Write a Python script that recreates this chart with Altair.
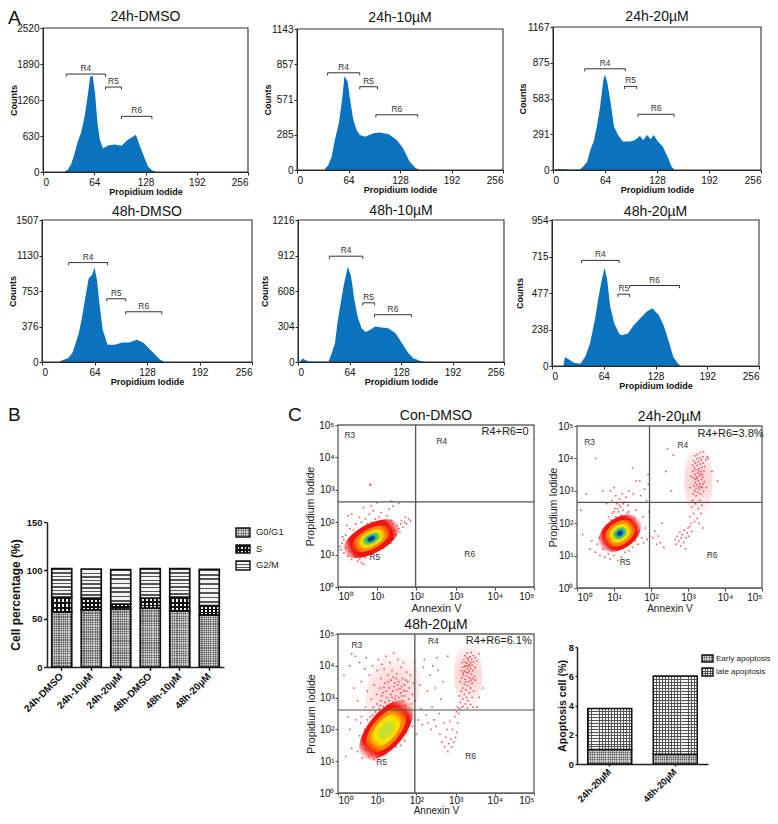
import altair as alt

FONT = "Liberation Sans"
W, H, M = 762, 808, 8

# ---------- histogram data (channel, counts) ----------
H_NAMES = ["24h-DMSO", "24h-10µM", "24h-20µM", "48h-DMSO", "48h-10µM", "48h-20µM"]
H_TOPS = [2520, 1143, 1167, 1507, 1216, 954]
H_TICKS = [[0, 630, 1260, 1890, 2520], [0, 285, 571, 857, 1143], [0, 291, 583, 875, 1167],
           [0, 376, 753, 1130, 1507], [0, 304, 608, 912, 1216], [0, 238, 477, 715, 954]]
H1_X = [27, 29, 31, 35, 39, 43, 48, 52, 56, 59, 62, 65, 68, 71, 75, 81, 90, 98, 106, 116, 120, 126, 131, 136, 141]
H1_Y = [0, 25, 40, 130, 300, 510, 710, 970, 1350, 1670, 1680, 1380, 860, 565, 410, 465, 480, 460, 565, 650, 495, 275, 100, 30, 0]
H2_X = [35, 39, 43, 47, 52, 56, 59, 63, 66, 70, 74, 78, 85, 95, 103, 114, 124, 132, 140, 147, 152]
H2_Y = [13, 40, 108, 243, 378, 567, 761, 715, 567, 405, 324, 283, 270, 297, 305, 289, 243, 175, 67, 19, 0]
H3_X = [3, 8, 15, 24, 33, 37, 42, 46, 50, 54, 58, 62, 64, 67, 71, 75, 80, 86, 95, 101, 107, 111, 116, 120, 124, 129, 135, 141, 146, 150]
H3_Y = [6, 9, 6, 3, 5, 27, 68, 164, 232, 355, 518, 736, 777, 709, 545, 355, 286, 232, 232, 245, 278, 245, 286, 251, 286, 232, 191, 109, 27, 0]
H4_X = [22, 32, 37, 41, 45, 49, 53, 57, 61, 64, 67, 70, 74, 80, 89, 98, 106, 116, 124, 132, 138, 144, 150]
H4_Y = [7, 42, 95, 201, 307, 483, 695, 889, 924, 1002, 871, 624, 342, 183, 183, 208, 208, 236, 201, 130, 78, 25, 0]
H5_X = [3, 6, 9, 14, 38, 42, 46, 49, 53, 57, 62, 66, 70, 74, 79, 84, 90, 96, 104, 112, 121, 129, 137, 143, 152, 160]
H5_Y = [11, 31, 17, 3, 3, 77, 162, 333, 504, 661, 818, 732, 533, 390, 290, 256, 276, 305, 296, 290, 248, 162, 77, 34, 9, 0]
H6_X = [14, 16, 21, 27, 35, 41, 47, 53, 58, 62, 65, 68, 72, 77, 83, 86, 94, 101, 109, 117, 124, 132, 138, 144, 150, 156, 159]
H6_Y = [0, 59, 42, 22, 15, 59, 147, 300, 464, 574, 640, 574, 388, 278, 212, 201, 212, 267, 311, 355, 377, 333, 267, 169, 59, 15, 0]
H_X = [H1_X, H2_X, H3_X, H4_X, H5_X, H6_X]
H_Y = [H1_Y, H2_Y, H3_Y, H4_Y, H5_Y, H6_Y]
# region brackets: label, start, end, height
H_GATES = [
    [("R4", 29, 78, 1714), ("R5", 78, 98, 1487), ("R6", 98, 136, 974)],
    [("R4", 38, 78, 788), ("R5", 78, 100, 675), ("R6", 98, 150, 448)],
    [("R4", 39, 89, 826), ("R5", 88, 103, 682), ("R6", 104.5, 149, 455)],
    [("R4", 32.5, 80, 1055), ("R5", 79, 102, 671), ("R6", 102, 146, 533)],
    [("R4", 39, 80.5, 906), ("R5", 80.5, 95, 507), ("R6", 95, 141, 405)],
    [("R4", 36.6, 83, 690), ("R5", 81.5, 96, 469), ("R6", 96, 157.6, 526)],
]
# page pixel boxes: left, right, bottom, top
H_BOX = [(43, 248, 172, 28), (297, 503, 170, 29), (553, 761, 170, 27),
         (42, 252, 362, 220), (298, 504, 362, 220), (552, 759, 366, 220)]
H_TITLE_DY = [-11, -11, -10, -8, -9, -8]
H_YPAD = [-2, -1, 0, -2, 2, 7]

# ---------- stacked bars ----------
B_CATS = ["24h-DMSO", "24h-10µM", "24h-20µM", "48h-DMSO", "48h-10µM", "48h-20µM"]
B_G1 = [57, 59, 60, 61, 58, 54]
B_S = [15.4, 12.4, 5, 10.4, 14.4, 9.4]
B_G2 = [29.3, 30, 35.7, 30.3, 29.3, 37.6]
D_CATS = ["24h-20µM", "48h-20µM"]
D_EARLY = [1.0, 0.66]
D_LATE = [2.8, 5.36]

# ---------- flow cytometry dots, (log10 Annexin V, log10 PI) ----------
C1_DOTS = [(1.5,1.9),(1.6,1.95),(1.65,1.85),(1.7,2.0),(1.75,1.95),(1.8,2.1),(1.85,2.05),(1.72,2.15),(1.62,2.05),(1.55,1.8),
 (1.45,1.75),(1.4,1.95),(1.35,2.05),(1.3,1.85),(1.25,2.2),(1.2,2.0),(1.1,2.3),(1.05,2.15),(0.95,2.1),(0.9,2.35),(0.85,2.0),
 (0.8,2.25),(0.75,1.95),(0.7,2.1),(0.6,2.0),(0.55,2.15),(0.45,1.95),(0.35,2.25),(0.3,1.8),(0.25,2.2),(0.4,1.75),(0.2,1.6),
 (0.15,1.45),(0.1,1.35),(0.05,1.25),(0.08,1.15),(0.15,1.05),(0.2,1.2),(0.25,0.95),(0.3,1.1),(0.35,0.85),(0.4,1.0),(0.45,0.95),
 (0.55,0.85),(0.6,0.75),(0.58,0.95),(0.7,0.9),(0.75,1.0),(0.85,1.05),(0.95,1.1),(1.05,1.15),(1.15,1.2),(1.25,1.3),(1.35,1.35),
 (1.0,2.6),(0.82,3.17),(0.83,3.14),(1.3,2.4),(1.4,2.5),(1.35,2.65),(1.55,2.58),(0.85,2.5),(0.65,2.45),(1.48,1.62),(1.58,1.7),
 (0.5,0.8),(0.65,0.7),(0.12,1.55),(0.22,1.9)]
C2_DOTS = [(0.35,1.2),(0.4,1.45),(0.5,1.1),(0.55,1.35),(0.6,1.55),(0.62,1.0),(0.7,1.2),(0.72,1.75),(0.75,0.95),(0.8,1.95),
 (0.85,1.05),(0.9,0.9),(0.92,2.1),(0.95,2.3),(1.0,1.0),(1.02,2.45),(1.05,2.2),(1.08,2.6),(1.1,0.85),(1.12,2.35),(1.15,2.75),
 (1.18,2.5),(1.2,0.95),(1.22,2.9),(1.25,2.4),(1.28,2.65),(1.3,1.1),(1.32,2.8),(1.35,2.3),(1.38,2.55),(1.4,1.15),(1.45,2.1),
 (1.5,1.25),(1.52,2.9),(1.55,1.95),(1.58,1.45),(1.6,2.4),(1.65,1.35),(1.68,1.75),(1.7,3.3),(1.72,2.85),(1.75,1.55),(1.78,2.2),
 (1.8,1.4),(1.82,3.05),(1.85,1.85),(1.88,2.7),(1.9,1.5),(1.92,3.5),(1.93,3.2),(1.95,2.35),(1.97,1.6),(0.15,1.65),(0.1,2.4),
 (0.25,2.9),(0.5,4.0),(1.0,3.1),(0.7,3.0),(0.9,3.0),(1.4,3.0),(1.5,3.7),(1.6,3.3),(0.8,2.6),(0.95,2.7),(1.05,2.85),(1.15,2.55),
 (1.25,2.6),(1.1,2.45),(1.0,2.35),(1.2,2.25),(1.3,2.15),(1.4,2.35),(0.85,2.2),(1.55,2.15),(1.6,1.85),
 (2.05,1.55),(2.1,1.75),(2.15,1.35),(2.2,1.6),(2.25,1.4),(2.3,2.0),(2.35,1.25),(2.4,3.6),(2.45,4.3),(2.55,3.0),(2.6,4.1),
 (2.65,1.5),(2.68,1.35),(2.7,1.6),(2.75,1.45),(2.78,1.72),(2.8,1.3),(2.82,1.55),(2.85,1.65),(2.88,1.4),(2.9,1.78),(2.93,1.2),
 (2.95,1.55),(2.98,1.7),(3.0,1.85),(3.02,1.6),(3.05,1.9),(3.08,2.0),(3.1,1.75),
 (3.05,2.2),(3.1,2.5),(3.12,2.7),(3.15,2.3),(3.18,2.05),(3.2,2.6),(3.22,2.85),(3.25,2.15),(3.28,2.45),(3.3,2.0),(3.32,2.7),
 (3.35,2.3),(3.38,2.55),(3.4,1.85),(3.14,2.9),(3.18,3.0),(3.22,3.08),(3.26,2.95),(3.3,3.05),(3.34,2.9),(3.38,3.1),(3.42,2.98),
 (3.16,3.15),(3.2,3.25),(3.24,3.18),(3.28,3.3),(3.32,3.22),(3.36,3.35),(3.4,3.2),(3.44,3.28),(3.15,3.4),(3.19,3.5),(3.23,3.42),
 (3.27,3.55),(3.31,3.45),(3.35,3.6),(3.39,3.5),(3.43,3.62),(3.13,3.6),(3.17,3.72),(3.21,3.65),(3.25,3.78),(3.29,3.68),
 (3.33,3.82),(3.37,3.72),(3.41,3.85),(3.45,3.75),(3.12,3.8),(3.16,3.92),(3.2,3.85),(3.24,3.98),(3.28,3.9),(3.32,4.02),
 (3.36,3.95),(3.4,4.05),(3.48,3.95),(3.52,4.05),(3.18,4.08),(3.25,4.12),(3.33,4.18),(3.42,4.2),(3.3,3.12),(3.25,3.38),
 (3.36,3.12),(3.4,3.42),(3.2,3.35),(3.28,3.62),(3.34,3.52),(3.8,3.3),(3.65,3.6),(3.55,4.0),(3.5,3.1),(3.05,3.1),(3.08,3.45)]
C3_DOTS = [(0.15,3.7),(0.2,1.15),(0.25,2.4),(0.3,4.0),(0.35,4.38),(0.4,3.3),(0.45,4.3),(0.5,2.9),(0.55,4.1),(0.58,2.2),
 (0.6,3.5),(0.65,1.55),(0.68,3.9),(0.7,2.7),(0.72,4.25),(0.75,3.2),(0.78,1.75),(0.8,3.7),(0.82,2.4),(0.85,2.95),(0.88,4.0),
 (0.9,2.7),(0.92,3.4),(0.95,2.55),(0.98,3.1),(1.0,3.85),(1.0,2.8),(1.03,4.2),(1.05,2.65),(1.07,3.3),(1.1,2.9),(1.1,3.6),
 (1.12,4.05),(1.15,2.72),(1.15,3.15),(1.18,3.9),(1.2,2.85),(1.2,3.45),(1.22,4.3),(1.25,2.75),(1.25,3.0),(1.27,3.7),(1.3,2.9),
 (1.3,3.3),(1.32,4.1),(1.35,2.7),(1.35,3.1),(1.35,3.55),(1.38,3.85),(1.4,2.85),(1.4,3.2),(1.42,4.4),(1.45,2.95),(1.45,3.45),
 (1.47,3.05),(1.5,2.8),(1.5,3.25),(1.5,3.75),(1.53,4.2),(1.55,3.0),(1.55,3.5),(1.57,2.75),(1.6,3.15),(1.6,3.95),(1.62,3.35),
 (1.65,2.9),(1.65,3.6),(1.67,4.1),(1.7,3.05),(1.7,3.4),(1.72,2.75),(1.75,3.2),(1.75,3.8),(1.78,3.5),(1.8,2.95),(1.82,3.3),
 (1.85,3.7),(1.87,2.8),(1.9,3.1),(1.92,3.45),(1.95,4.1),(1.97,2.9),(1.28,3.5),(1.33,2.8),(1.43,3.35),(1.48,3.6),(1.38,3.0),
 (1.58,3.28),(1.68,3.22),(1.12,3.05),(1.08,2.75),(1.17,3.32),(1.23,3.2),(1.41,3.65),(1.52,3.4),(1.63,3.05),(1.73,3.55),
 (0.3,2.0),(0.35,1.4),(0.45,2.3),(0.5,1.3),(0.55,1.8),(0.6,2.4),(0.62,1.1),(0.68,2.0),(0.7,1.35),(0.75,2.3),(0.78,1.15),
 (0.8,2.1),(0.85,1.2),(0.88,2.45),(0.92,1.05),(1.0,1.12),(1.08,1.2),(1.18,1.28),(1.28,1.35),(1.38,1.42),(1.48,1.45),
 (1.6,1.5),(1.7,1.65),(1.75,1.9),(1.8,2.15),(1.82,2.45),(1.9,2.1),(1.95,2.3),(2.0,1.85),
 (2.05,2.3),(2.1,3.4),(2.12,2.65),(2.15,2.15),(2.18,3.95),(2.2,4.2),(2.25,2.45),(2.28,3.2),(2.3,2.2),(2.35,3.7),(2.38,2.0),
 (2.4,2.7),(2.42,4.0),(2.45,2.3),(2.48,3.3),(2.5,2.1),(2.52,4.25),(2.55,3.85),(2.58,2.5),(2.6,1.85),(2.62,2.95),(2.65,1.6),
 (2.68,3.5),(2.7,2.2),(2.72,1.45),(2.75,1.75),(2.78,2.0),(2.8,4.3),(2.8,1.3),(2.82,1.55),(2.85,2.25),(2.88,1.7),(2.9,1.45),
 (2.92,2.0),(2.95,1.6),(2.98,2.4),(3.0,1.75),(3.02,2.55),(3.03,1.9),(3.05,2.2),(3.08,2.5),
 (3.05,2.7),(3.1,2.65),(3.12,2.85),(3.15,2.7),(3.18,2.95),(3.2,2.72),(3.22,3.1),(3.25,2.8),(3.28,3.0),(3.3,2.68),(3.32,2.9),
 (3.35,3.15),(3.38,2.78),(3.42,3.0),(3.45,2.7),(3.1,3.05),(3.14,3.2),(3.18,3.3),(3.22,3.42),(3.26,3.25),(3.3,3.38),(3.34,3.5),
 (3.38,3.3),(3.42,3.45),(3.46,3.2),(3.5,3.55),(3.12,3.5),(3.16,3.62),(3.2,3.72),(3.24,3.58),(3.28,3.68),(3.32,3.78),(3.36,3.62),
 (3.4,3.74),(3.44,3.85),(3.48,3.68),(3.14,3.85),(3.18,3.95),(3.22,3.84),(3.26,4.0),(3.3,3.9),(3.34,4.05),(3.38,3.92),(3.42,4.02),
 (3.46,4.12),(3.5,3.95),(3.17,4.1),(3.21,4.2),(3.25,4.12),(3.29,4.25),(3.33,4.15),(3.37,4.28),(3.41,4.2),(3.45,4.32),(3.5,4.25),
 (3.55,4.15),(3.3,4.4),(3.4,4.42),(3.6,4.38),(3.24,4.32),(3.19,3.78),(3.27,3.8),(3.31,3.98),(3.35,3.84),(3.39,4.1),(3.23,3.98),
 (3.28,4.08),(3.36,4.0),(3.32,4.22),(3.26,3.5),(3.4,3.55),(3.44,3.6),(3.6,3.0),(3.55,2.7),(3.7,3.3)]
C_DOTS = [C1_DOTS, C2_DOTS, C3_DOTS]
C_NAMES = ["Con-DMSO", "24h-20µM", "48h-20µM"]
C_BOX = [(338, 534, 587, 425), (577, 762, 588, 426), (338, 534, 793, 634)]
C_QUAD = [(1.98, 2.63), (1.96, 2.64), (1.96, 2.61)]
C_YPAD = [3, -1, 2]
C_XPAD = [1, 1, 0]
C_TICK = [3, 3, 2]
C_LPAD = [1, 1, 0]
C_NOTES = [
    [("R3", .30, 4.68), ("R4", 2.65, 4.51), ("R5", .94, .92), ("R6", 3.36, 1.03)],
    [("R3", .34, 4.51), ("R4", 2.86, 4.41), ("R5", 1.3, .8), ("R6", 3.65, 1.01)],
    [("R3", .48, 4.66), ("R4", 2.43, 4.77), ("R5", 1.11, .99), ("R6", 3.38, 1.17)],
]
C_SUMS = [("R4+R6=0", 4.26, 4.79), ("R4+R6=3.8%", 4.15, 4.76), ("R4+R6=6.1%", 4.1, 4.79)]
C_TITLE_SIZE = [11, 10, 10]
# density blobs: centre, angle, aspect, major-axis lengths and colours
HEAT = [(240, 20, 20), (255, 138, 0), (255, 224, 0), (112, 204, 64), (16, 176, 176), (16, 48, 128)]
C_BLOBS = [
    dict(x=.85, y=1.49, angle=332, aspect=.47, sizes=[62, 42, 30, 21, 14, 9], colors=HEAT),
    dict(x=1.16, y=1.69, angle=325, aspect=.64, sizes=[48, 35, 25, 17, 12, 7], colors=HEAT),
    dict(x=1.23, y=1.98, angle=310, aspect=.5, sizes=[72, 54, 40, 24],
         colors=[(240, 20, 20), (255, 138, 0), (255, 224, 0), (196, 224, 48)]),
]
C_HAZE = [
    [],
    [(3.28, 3.3, 74, .38, 270)],
    [(1.4, 3.2, 84, .62, 285), (3.32, 3.7, 70, .4, 270)],
]


def px(v):
    return v - M


def stripes(n, vertical, c1, c2, duty=.5):
    stops = []
    for i in range(n):
        stops += [dict(offset=i / n, color=c1), dict(offset=(i + duty) / n, color=c1),
                  dict(offset=(i + duty) / n, color=c2), dict(offset=(i + 1) / n, color=c2)]
    return dict(gradient="linear", x1=0, y1=0, x2=1 if vertical else 0, y2=0 if vertical else 1, stops=stops)


def soft(rgb, peak=1.0, hold=.7):
    r, g, b = rgb
    return dict(gradient="radial", stops=[dict(offset=0, color=f"rgba({r},{g},{b},{peak})"),
                                          dict(offset=hold, color=f"rgba({r},{g},{b},{peak})"),
                                          dict(offset=1, color=f"rgba({r},{g},{b},0)")])


def rows(**cols):
    keys = list(cols)
    return alt.Data(values=[dict(zip(keys, v)) for v in zip(*cols.values())])


def text_layer(data, sx, sy, ax, ay, size, dy=0, weight="normal", color="#222", font=FONT):
    return alt.Chart(data).mark_text(font=font, fontSize=size, fontWeight=weight, color=color, dy=dy).encode(
        x=alt.X("x:Q", scale=sx, axis=ax), y=alt.Y("y:Q", scale=sy, axis=ay), text="t:N")


def hist_panel(i):
    l, r, b, t = H_BOX[i]
    top = H_TOPS[i]
    sx = alt.Scale(domain=[0, 256], range=[px(l), px(r)], nice=False, zero=False)
    sy = alt.Scale(domain=[0, top], range=[px(b), px(t)], nice=False)
    ax = alt.Axis(orient="bottom", offset=px(b) - H, values=[0, 64, 128, 192, 256], title="Propidium Iodide", format="d",
                  grid=False, tickSize=3, labelFont=FONT, labelFontSize=10, labelColor="#111", labelPadding=2,
                  titleFont=FONT, titleFontSize=9, titleFontWeight="bold", titleColor="#111", titlePadding=0,
                  domainColor="#222", tickColor="#222")
    ay = alt.Axis(orient="left", offset=-px(l), values=H_TICKS[i], title="Counts", format="d", grid=False, tickSize=3,
                  labelFont=FONT, labelFontSize=10, labelColor="#111", labelPadding=1, titleFont=FONT,
                  titleFontSize=9, titleFontWeight="bold", titleColor="#111", titlePadding=H_YPAD[i],
                  domainColor="#222", tickColor="#222")
    area = alt.Chart(rows(x=H_X[i], y=H_Y[i])).mark_area(color="#0b72bd", interpolate="linear").encode(
        x=alt.X("x:Q", scale=sx, axis=ax), y=alt.Y("y:Q", scale=sy, axis=ay, stack=None))
    frame = alt.Chart(rows(x=[0], x2=[256], y=[0], y2=[top])).mark_rect(fill=None, stroke="#333", strokeWidth=1.1).encode(
        x=alt.X("x:Q", scale=sx, axis=ax), x2="x2:Q", y=alt.Y("y:Q", scale=sy, axis=ay), y2="y2:Q")
    g = H_GATES[i]
    drop = top * .018
    bars = alt.Chart(rows(x=[a[1] for a in g], x2=[a[2] for a in g], y=[a[3] for a in g])).mark_rule(
        color="#333", strokeWidth=1).encode(x=alt.X("x:Q", scale=sx, axis=ax), x2="x2:Q",
                                            y=alt.Y("y:Q", scale=sy, axis=ay))
    ends_x = [a[1] for a in g] + [a[2] for a in g]
    ends_y = [a[3] for a in g] * 2
    ends = alt.Chart(rows(x=ends_x, y=ends_y, y2=[v - drop for v in ends_y])).mark_rule(color="#333", strokeWidth=1).encode(
        x=alt.X("x:Q", scale=sx, axis=ax), y=alt.Y("y:Q", scale=sy, axis=ay), y2="y2:Q")
    labels = text_layer(rows(x=[(a[1] + a[2]) / 2 for a in g], y=[a[3] for a in g], t=[a[0] for a in g]),
                        sx, sy, ax, ay, 8.4, dy=-6, color="#333")
    title = text_layer(rows(x=[128], y=[top], t=[H_NAMES[i]]), sx, sy, ax, ay, 14, dy=H_TITLE_DY[i], color="#111")
    return alt.layer(area, frame, bars, ends, labels, title)


SUP = "['⁰','¹','²','³','⁴','⁵'][datum.value]"


def ellipse_path(aspect):
    b = aspect
    return f"M-1,0A1,{b} 0 1,1 1,0A1,{b} 0 1,1 -1,0Z"


def flow_panel(i):
    l, r, b, t = C_BOX[i]
    sx = alt.Scale(domain=[0, 5], range=[px(l), px(r)], nice=False, zero=False)
    sy = alt.Scale(domain=[0, 5], range=[px(b), px(t)], nice=False, zero=False)
    common = dict(values=[0, 1, 2, 3, 4, 5], grid=False, labelFont=FONT, labelFontSize=10,
                  labelColor="#111", labelExpr="'10' + " + SUP, titleFont=FONT, titleColor="#222",
                  domainColor="#666", tickColor="#444")
    ax = alt.Axis(orient="bottom", offset=px(b) - H, title="Annexin V", titleFontSize=C_TITLE_SIZE[i], titleFontWeight="normal",
                  titlePadding=C_XPAD[i], tickSize=C_TICK[i], labelPadding=C_LPAD[i], **common)
    ay = alt.Axis(orient="left", offset=-px(l), title="Propidium Iodide", titleFontSize=10.6, titleFontWeight="normal",
                  titlePadding=C_YPAD[i], tickSize=3, labelPadding=1, **common)
    qx, qy = C_QUAD[i]
    frame = alt.Chart(rows(x=[0], x2=[5], y=[0], y2=[5])).mark_rect(fill="white", stroke="#666", strokeWidth=1.4).encode(
        x=alt.X("x:Q", scale=sx, axis=ax), x2="x2:Q", y=alt.Y("y:Q", scale=sy, axis=ay), y2="y2:Q")
    layers = [frame]
    for hx, hy, major, aspect, ang in C_HAZE[i]:
        layers.append(alt.Chart(rows(x=[hx], y=[hy], s=[major ** 2])).mark_point(
            filled=True, shape=ellipse_path(aspect), angle=ang, fill=soft((240, 70, 70), .22, .25), opacity=1).encode(
            x=alt.X("x:Q", scale=sx, axis=ax), y=alt.Y("y:Q", scale=sy, axis=ay), size=alt.Size("s:Q", scale=None)))
    dots = C_DOTS[i]
    layers.append(alt.Chart(rows(x=[d[0] for d in dots], y=[d[1] for d in dots])).mark_square(
        size=2.4, color="#e8262c", opacity=.8).encode(x=alt.X("x:Q", scale=sx, axis=ax), y=alt.Y("y:Q", scale=sy, axis=ay)))
    blob = C_BLOBS[i]
    for major, rgb in zip(blob["sizes"], blob["colors"]):
        layers.append(alt.Chart(rows(x=[blob["x"]], y=[blob["y"]], s=[major ** 2])).mark_point(
            filled=True, shape=ellipse_path(blob["aspect"]), angle=blob["angle"], fill=soft(rgb), opacity=1).encode(
            x=alt.X("x:Q", scale=sx, axis=ax), y=alt.Y("y:Q", scale=sy, axis=ay), size=alt.Size("s:Q", scale=None)))
    layers.append(alt.Chart(rows(x=[qx], y=[0], y2=[5])).mark_rule(color="#555", strokeWidth=1.3).encode(
        x=alt.X("x:Q", scale=sx, axis=ax), y=alt.Y("y:Q", scale=sy, axis=ay), y2="y2:Q"))
    layers.append(alt.Chart(rows(y=[qy], x=[0], x2=[5])).mark_rule(color="#555", strokeWidth=1.2).encode(
        x=alt.X("x:Q", scale=sx, axis=ax), x2="x2:Q", y=alt.Y("y:Q", scale=sy, axis=ay)))
    notes = C_NOTES[i]
    layers.append(text_layer(rows(x=[a[1] for a in notes], y=[a[2] for a in notes], t=[a[0] for a in notes]),
                             sx, sy, ax, ay, 8.4, color="#333"))
    s = C_SUMS[i]
    layers.append(text_layer(rows(x=[s[1]], y=[s[2]], t=[s[0]]), sx, sy, ax, ay, 11, color="#222"))
    layers.append(text_layer(rows(x=[2.5], y=[5], t=[C_NAMES[i]]), sx, sy, ax, ay, 14, dy=-9, color="#111"))
    return alt.layer(*layers)


def bar_axes(l, r, b, t, step_domain, yticks, ytitle, xsize, ysize, tsize, tick, pad):
    sy = alt.Scale(domain=step_domain, range=[px(b), px(t)], nice=False)
    ax = alt.Axis(orient="bottom", offset=px(b) - H, title=None, labelAngle=-45, labelAlign="right", labelBaseline="middle",
                  labelFont=FONT, labelFontSize=xsize, labelFontWeight="bold", labelColor="#111", tickSize=tick, tickWidth=1.5,
                  domainWidth=1.5, domainColor="#222", tickColor="#222", labelPadding=4, labelOverlap=False)
    ay = alt.Axis(orient="left", offset=-px(l), values=yticks, title=ytitle, grid=False, tickSize=tick, tickWidth=1.5, domainWidth=1.5,
                  domainColor="#222", tickColor="#222", labelFont=FONT, labelFontSize=ysize, labelFontWeight="bold",
                  labelColor="#111", labelPadding=1.5, titleFont=FONT, titleFontSize=tsize, titleFontWeight="bold",
                  titleColor="#111", titlePadding=pad)
    return ax, sy, ay


def swatch(box, fills):
    x, x2, y, y2 = box
    sx = alt.Scale(domain=[0, W], range=[0, W], nice=False, zero=False)
    sy = alt.Scale(domain=[0, H], range=[0, H], nice=False, zero=False)
    d = rows(x=[px(x)], x2=[px(x2)], y=[px(y)], y2=[px(y2)])
    out = []
    for f in fills:
        out.append(alt.Chart(d).mark_rect(fill=f).encode(x=alt.X("x:Q", scale=sx, axis=None), x2="x2:Q",
                                                          y=alt.Y("y:Q", scale=sy, axis=None), y2="y2:Q"))
    out.append(alt.Chart(d).mark_rect(fill=None, stroke="#111", strokeWidth=1.4).encode(
        x=alt.X("x:Q", scale=sx, axis=None), x2="x2:Q", y=alt.Y("y:Q", scale=sy, axis=None), y2="y2:Q"))
    return alt.layer(*out)


# pattern pieces
def g1_fill(nh, nv):
    return [stripes(nh, False, "#707070", "#c4c4c4"), stripes(nv, True, "rgba(70,70,70,0.35)", "rgba(235,235,235,0.35)")]


def s_fill(nh, nv):
    return [stripes(nh, False, "#111111", "#f4f4f4", .45), stripes(nv, True, "#111111", "rgba(0,0,0,0)", .45)]


def g2_fill(nh):
    return [stripes(nh, False, "#555555", "#f4f4f4", .4)]


def grid_fill(nh, nv):
    return [stripes(nh, False, "#555555", "#f6f6f6", .35), stripes(nv, True, "#555555", "rgba(0,0,0,0)", .3)]


def stacked_panel():
    l, r, b, t = 47, 224, 667, 522
    ax, sy, ay = bar_axes(l, r, b, t, [0, 150], [0, 50, 100, 150], "Cell percentage (%)", 10, 9.4, 12, 3.5, 4)
    sx = alt.Scale(domain=B_CATS, range=[px(l), px(r)], paddingInner=.32, paddingOuter=.16)
    base1 = [0] * 6
    top1 = B_G1
    top2 = [a + c for a, c in zip(top1, B_S)]
    top3 = [a + c for a, c in zip(top2, B_G2)]
    segs = [(base1, top1, g1_fill(24, 9)), (top1, top2, s_fill(3, 5)), (top2, top3, g2_fill(8))]
    layers = []
    for lo, hi, fills in segs:
        d = rows(c=B_CATS, y=lo, y2=hi)
        for f in fills + [None]:
            if f is None:
                mk = alt.Chart(d).mark_bar(size=20, fill=None, stroke="#111", strokeWidth=1.7)
            else:
                mk = alt.Chart(d).mark_bar(size=20, fill=f)
            layers.append(mk.encode(
                x=alt.X("c:N", scale=sx, axis=ax, sort=B_CATS),
                y=alt.Y("y:Q", scale=sy, axis=ay), y2="y2:Q"))
    return alt.layer(*layers)


def apoptosis_panel():
    l, r, b, t = 577, 708, 764, 647
    ax, sy, ay = bar_axes(l, r, b, t, [0, 8], [0, 2, 4, 6, 8], "Apoptosis cell (%)", 9.4, 9.4, 10.6, 2, 1)
    sx = alt.Scale(domain=D_CATS, range=[px(l), px(r)], paddingInner=.33, paddingOuter=.165)
    layers = []
    for k, cat in enumerate(D_CATS):
        early, late = D_EARLY[k], D_LATE[k]
        n_late = [14, 26][k]
        d1 = rows(c=[cat], y=[0], y2=[early])
        d2 = rows(c=[cat], y=[early], y2=[early + late])
        for d, fills in [(d1, g1_fill([6, 4][k], 20)), (d2, grid_fill(n_late, 15))]:
            for f in fills + [None]:
                mk = alt.Chart(d).mark_bar(size=44, fill=None, stroke="#111", strokeWidth=1.5) if f is None else alt.Chart(d).mark_bar(size=44, fill=f)
                layers.append(mk.encode(
                    x=alt.X("c:N", scale=sx, axis=ax, sort=D_CATS),
                    y=alt.Y("y:Q", scale=sy, axis=ay), y2="y2:Q"))
    return alt.layer(*layers)


# free text: panel letters and hand-drawn legends
sxp = alt.Scale(domain=[0, W], range=[0, W], nice=False, zero=False)
syp = alt.Scale(domain=[0, H], range=[0, H], nice=False, zero=False)
LETTERS = ["A", "B", "C"]
letters = alt.Chart(rows(x=[0, 0, px(288)], y=[px(24), px(421), px(421)], t=LETTERS)).mark_text(
    font=FONT, fontSize=19, align="left", baseline="alphabetic", color="#111").encode(
    x=alt.X("x:Q", scale=sxp, axis=None), y=alt.Y("y:Q", scale=syp, axis=None), text="t:N")
L1 = ["G0/G1", "S", "G2/M"]
L2 = ["Early apoptosis", "late apoptosis"]
leg1 = alt.Chart(rows(x=[px(256)] * 3, y=[px(532), px(549), px(565)], t=L1)).mark_text(
    font=FONT, fontSize=9.4, align="left", baseline="middle", color="#222").encode(
    x=alt.X("x:Q", scale=sxp, axis=None), y=alt.Y("y:Q", scale=syp, axis=None), text="t:N")
leg2 = alt.Chart(rows(x=[px(716)] * 2, y=[px(659), px(672)], t=L2)).mark_text(
    font=FONT, fontSize=8, align="left", baseline="middle", color="#222").encode(
    x=alt.X("x:Q", scale=sxp, axis=None), y=alt.Y("y:Q", scale=syp, axis=None), text="t:N")

panels = [hist_panel(i) for i in range(6)] + [stacked_panel()] + [flow_panel(i) for i in range(3)] + [apoptosis_panel()]
panels += [swatch((236, 250, 528, 537), g1_fill(4, 6)), swatch((236, 250, 545, 553), s_fill(2, 4)),
           swatch((236, 250, 561, 570), g2_fill(3)), swatch((702, 713, 655, 662), g1_fill(3, 5)),
           swatch((702, 713, 668, 676), grid_fill(3, 4))]
panels += [letters, leg1, leg2]

chart = alt.layer(*panels).resolve_scale(x="independent", y="independent").properties(
    width=W, height=H, padding=0, autosize="none", background="white"
).configure_view(stroke=None)

chart.save("out.html", embed_options={"renderer": "svg", "actions": False})
